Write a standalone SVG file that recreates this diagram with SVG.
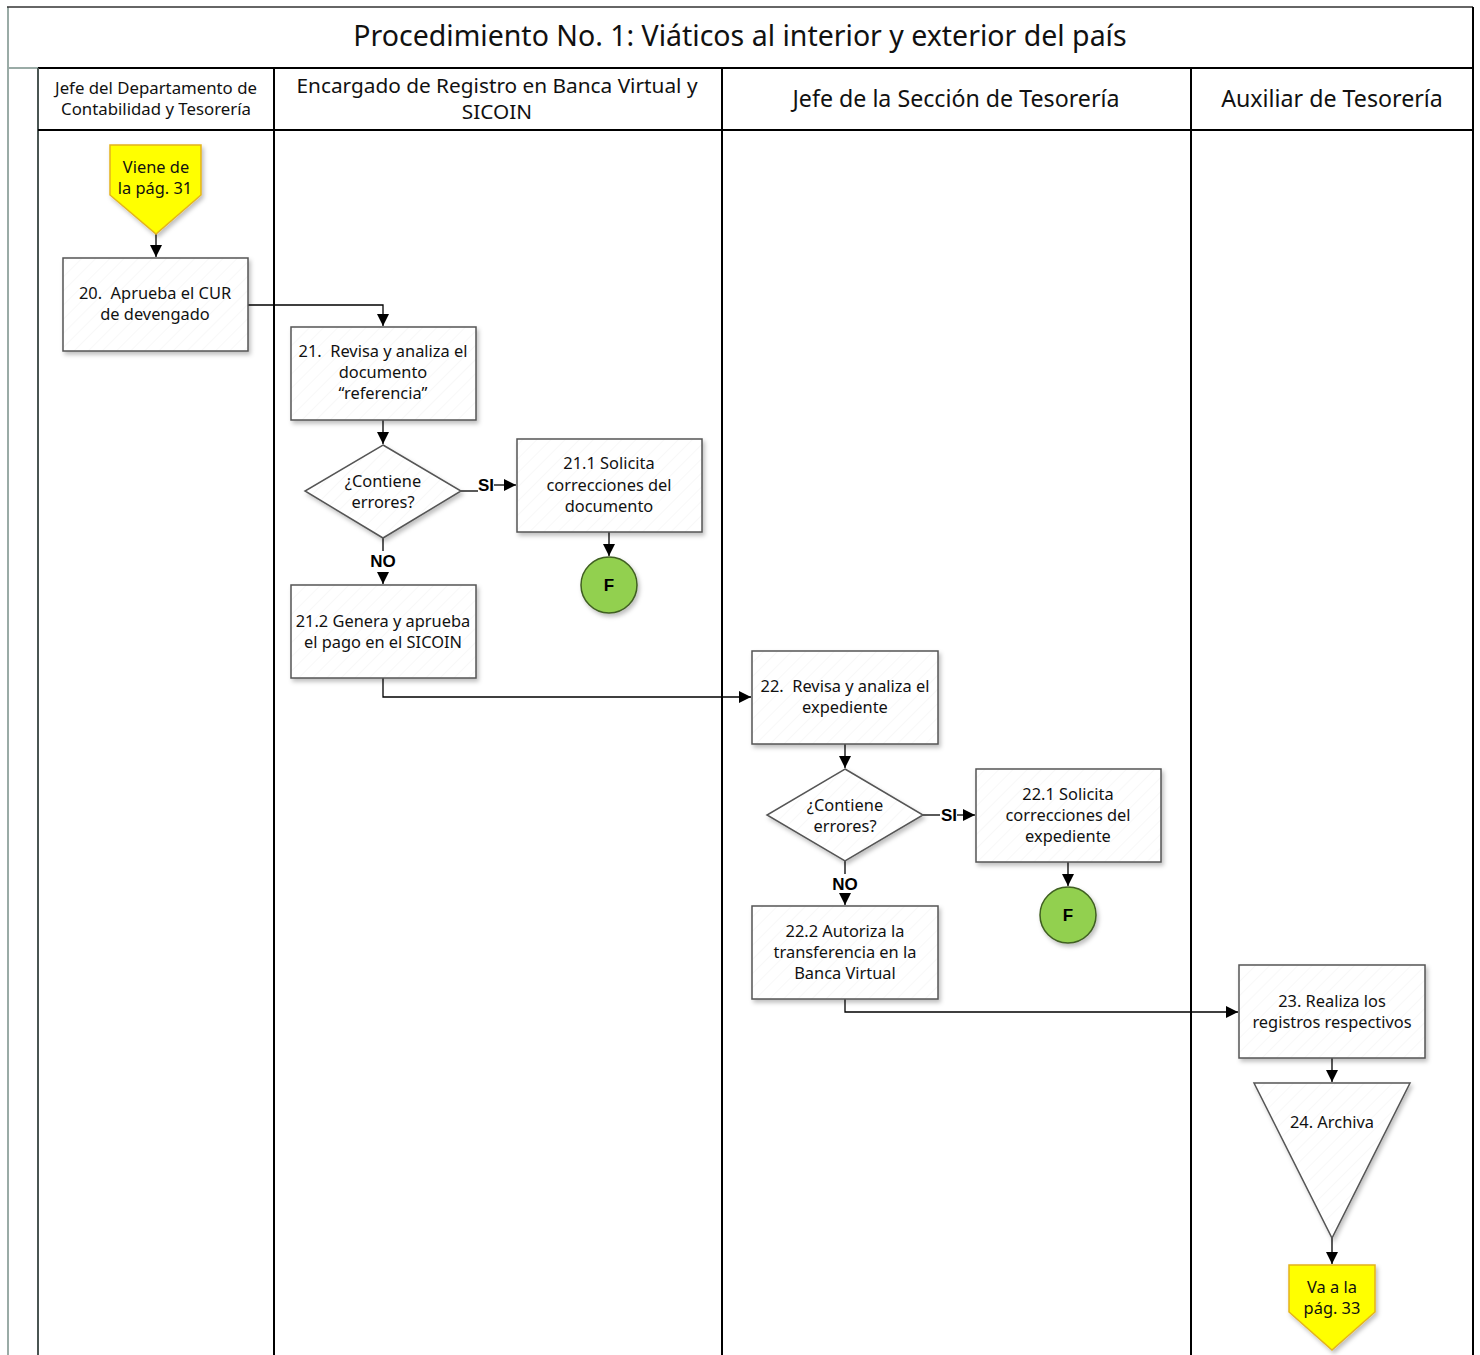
<svg xmlns="http://www.w3.org/2000/svg" width="1480" height="1355" viewBox="0 0 1480 1355">
  <defs>
    <style>
      .t { font-family: "Noto Sans", "Open Sans", sans-serif; fill: #111; text-anchor: middle; white-space: pre; }
      .node { font-size: 16.4px; }
      .lbl { font-family: "Liberation Sans", Arial, sans-serif; font-weight: bold; font-size: 17px; fill: #000; text-anchor: middle; }
      .box { fill: url(#hatch); stroke: #555; stroke-width: 1.5; filter: url(#shadow); }
      .off { fill: #ffff00; stroke: #e3b31c; stroke-width: 1.5; filter: url(#shadow); }
      .end { fill: #92d050; stroke: #3f5f20; stroke-width: 1.5; filter: url(#shadow); }
      .conn { fill: none; stroke: #000; stroke-width: 1.3; }
      .lane { stroke: #000; stroke-width: 2; }
    </style>
    <pattern id="hatch" patternUnits="userSpaceOnUse" width="10" height="10" patternTransform="rotate(45)">
      <rect width="10" height="10" fill="#fff"/>
      <line x1="0" y1="0" x2="0" y2="10" stroke="#f6f6f6" stroke-width="1.5"/>
    </pattern>
    <filter id="shadow" x="-20%" y="-20%" width="140%" height="140%">
      <feDropShadow dx="2" dy="3" stdDeviation="2" flood-color="#000" flood-opacity="0.25"/>
    </filter>
    <marker id="arr" viewBox="0 0 10 10" refX="10" refY="5" markerWidth="12" markerHeight="12" markerUnits="userSpaceOnUse" orient="auto">
      <path d="M0,0 L10,5 L0,10 Z" fill="#000"/>
    </marker>
  </defs>

  <rect width="1480" height="1355" fill="#fff"/>

  <!-- swimlane frame -->
  <g id="frame">
    <line x1="8" y1="7" x2="8" y2="1355" stroke="#9aaba6" stroke-width="2"/>
    <line x1="7" y1="7" x2="1473" y2="7" stroke="#333" stroke-width="1.5"/>
    <line x1="1473" y1="7" x2="1473" y2="1355" stroke="#000" stroke-width="2"/>
    <line x1="7" y1="68" x2="38" y2="68" stroke="#9aaba6" stroke-width="2"/>
    <line x1="38" y1="68" x2="1473" y2="68" stroke="#000" stroke-width="2"/>
    <line x1="38" y1="68" x2="38" y2="1355" stroke="#4a5552" stroke-width="2"/>
    <line x1="38" y1="130" x2="1473" y2="130" stroke="#000" stroke-width="2"/>
    <line class="lane" x1="274" y1="68" x2="274" y2="1355"/>
    <line class="lane" x1="722" y1="68" x2="722" y2="1355"/>
    <line class="lane" x1="1191" y1="68" x2="1191" y2="1355"/>
    <text class="t" x="740" y="46" font-size="28.5">Procedimiento No. 1: Viáticos al interior y exterior del país</text>
    <text class="t" x="156" y="94" font-size="16.8">Jefe del Departamento de</text>
    <text class="t" x="156" y="115" font-size="16.8">Contabilidad y Tesorería</text>
    <text class="t" x="497" y="93" font-size="20.8">Encargado de Registro en Banca Virtual y</text>
    <text class="t" x="497" y="119" font-size="20.8">SICOIN</text>
    <text class="t" x="956" y="107" font-size="23.2">Jefe de la Sección de Tesorería</text>
    <text class="t" x="1332" y="107" font-size="23.2">Auxiliar de Tesorería</text>
  </g>

  <!-- connectors -->
  <g id="connectors">
    <line class="conn" x1="156" y1="234" x2="156" y2="257" marker-end="url(#arr)"/>
    <polyline class="conn" points="248,305 383,305 383,326" marker-end="url(#arr)"/>
    <line class="conn" x1="383" y1="420" x2="383" y2="444" marker-end="url(#arr)"/>
    <line class="conn" x1="461" y1="491" x2="478" y2="491"/>
    <text class="lbl" x="486" y="491">SI</text>
    <line class="conn" x1="494" y1="485" x2="516" y2="485" marker-end="url(#arr)"/>
    <line class="conn" x1="609" y1="532" x2="609" y2="556" marker-end="url(#arr)"/>
    <line class="conn" x1="383" y1="538" x2="383" y2="551"/>
    <text class="lbl" x="383" y="567">NO</text>
    <line class="conn" x1="383" y1="572" x2="383" y2="584" marker-end="url(#arr)"/>
    <polyline class="conn" points="383,678 383,697 751,697" marker-end="url(#arr)"/>
    <line class="conn" x1="845" y1="744" x2="845" y2="768" marker-end="url(#arr)"/>
    <line class="conn" x1="923" y1="815" x2="940" y2="815"/>
    <text class="lbl" x="949" y="821">SI</text>
    <line class="conn" x1="957" y1="815" x2="975" y2="815" marker-end="url(#arr)"/>
    <line class="conn" x1="1068" y1="862" x2="1068" y2="886" marker-end="url(#arr)"/>
    <line class="conn" x1="845" y1="861" x2="845" y2="874"/>
    <text class="lbl" x="845" y="890">NO</text>
    <line class="conn" x1="845" y1="895" x2="845" y2="905" marker-end="url(#arr)"/>
    <polyline class="conn" points="845,999 845,1012 1238,1012" marker-end="url(#arr)"/>
    <line class="conn" x1="1332" y1="1058" x2="1332" y2="1082" marker-end="url(#arr)"/>
    <line class="conn" x1="1332" y1="1238" x2="1332" y2="1264" marker-end="url(#arr)"/>
  </g>

  <!-- nodes -->
  <g id="from31">
    <path class="off" d="M110,145 L201,145 L201,195 L156,234 L110,195 Z"/>
    <text class="t node" x="156" y="173">Viene de</text>
    <text class="t node" x="155" y="194">la pág. 31</text>
  </g>
  <g id="n20">
    <rect class="box" x="63" y="258" width="185" height="93"/>
    <text class="t node" x="155" y="299">20.  Aprueba el CUR</text>
    <text class="t node" x="155" y="320">de devengado</text>
  </g>
  <g id="n21">
    <rect class="box" x="291" y="327" width="185" height="93"/>
    <text class="t node" x="383" y="357">21.  Revisa y analiza el</text>
    <text class="t node" x="383" y="378">documento</text>
    <text class="t node" x="383" y="399">“referencia”</text>
  </g>
  <g id="d21">
    <path class="box" d="M383,445 L461,491 L383,538 L305,491 Z"/>
    <text class="t node" x="383" y="487">¿Contiene</text>
    <text class="t node" x="383" y="508">errores?</text>
  </g>
  <g id="n21_1">
    <rect class="box" x="517" y="439" width="185" height="93"/>
    <text class="t node" x="609" y="469">21.1 Solicita</text>
    <text class="t node" x="609" y="491">correcciones del</text>
    <text class="t node" x="609" y="512">documento</text>
  </g>
  <g id="f21">
    <circle class="end" cx="609" cy="585" r="28"/>
    <text class="lbl" x="609" y="591" font-size="15">F</text>
  </g>
  <g id="n21_2">
    <rect class="box" x="291" y="585" width="185" height="93"/>
    <text class="t node" x="383" y="627">21.2 Genera y aprueba</text>
    <text class="t node" x="383" y="648">el pago en el SICOIN</text>
  </g>
  <g id="n22">
    <rect class="box" x="752" y="651" width="186" height="93"/>
    <text class="t node" x="845" y="692">22.  Revisa y analiza el</text>
    <text class="t node" x="845" y="713">expediente</text>
  </g>
  <g id="d22">
    <path class="box" d="M845,769 L923,815 L845,861 L767,815 Z"/>
    <text class="t node" x="845" y="811">¿Contiene</text>
    <text class="t node" x="845" y="832">errores?</text>
  </g>
  <g id="n22_1">
    <rect class="box" x="976" y="769" width="185" height="93"/>
    <text class="t node" x="1068" y="800">22.1 Solicita</text>
    <text class="t node" x="1068" y="821">correcciones del</text>
    <text class="t node" x="1068" y="842">expediente</text>
  </g>
  <g id="f22">
    <circle class="end" cx="1068" cy="915" r="28"/>
    <text class="lbl" x="1068" y="921" font-size="15">F</text>
  </g>
  <g id="n22_2">
    <rect class="box" x="752" y="906" width="186" height="93"/>
    <text class="t node" x="845" y="937">22.2 Autoriza la</text>
    <text class="t node" x="845" y="958">transferencia en la</text>
    <text class="t node" x="845" y="979">Banca Virtual</text>
  </g>
  <g id="n23">
    <rect class="box" x="1239" y="965" width="186" height="93"/>
    <text class="t node" x="1332" y="1007">23. Realiza los</text>
    <text class="t node" x="1332" y="1028">registros respectivos</text>
  </g>
  <g id="n24">
    <path class="box" d="M1254,1083 L1410,1083 L1332,1238 Z"/>
    <text class="t node" x="1332" y="1128">24. Archiva</text>
  </g>
  <g id="to33">
    <path class="off" d="M1289,1265 L1375,1265 L1375,1312 L1332,1350 L1289,1312 Z"/>
    <text class="t node" x="1332" y="1293">Va a la</text>
    <text class="t node" x="1332" y="1314">pág. 33</text>
  </g>
</svg>
